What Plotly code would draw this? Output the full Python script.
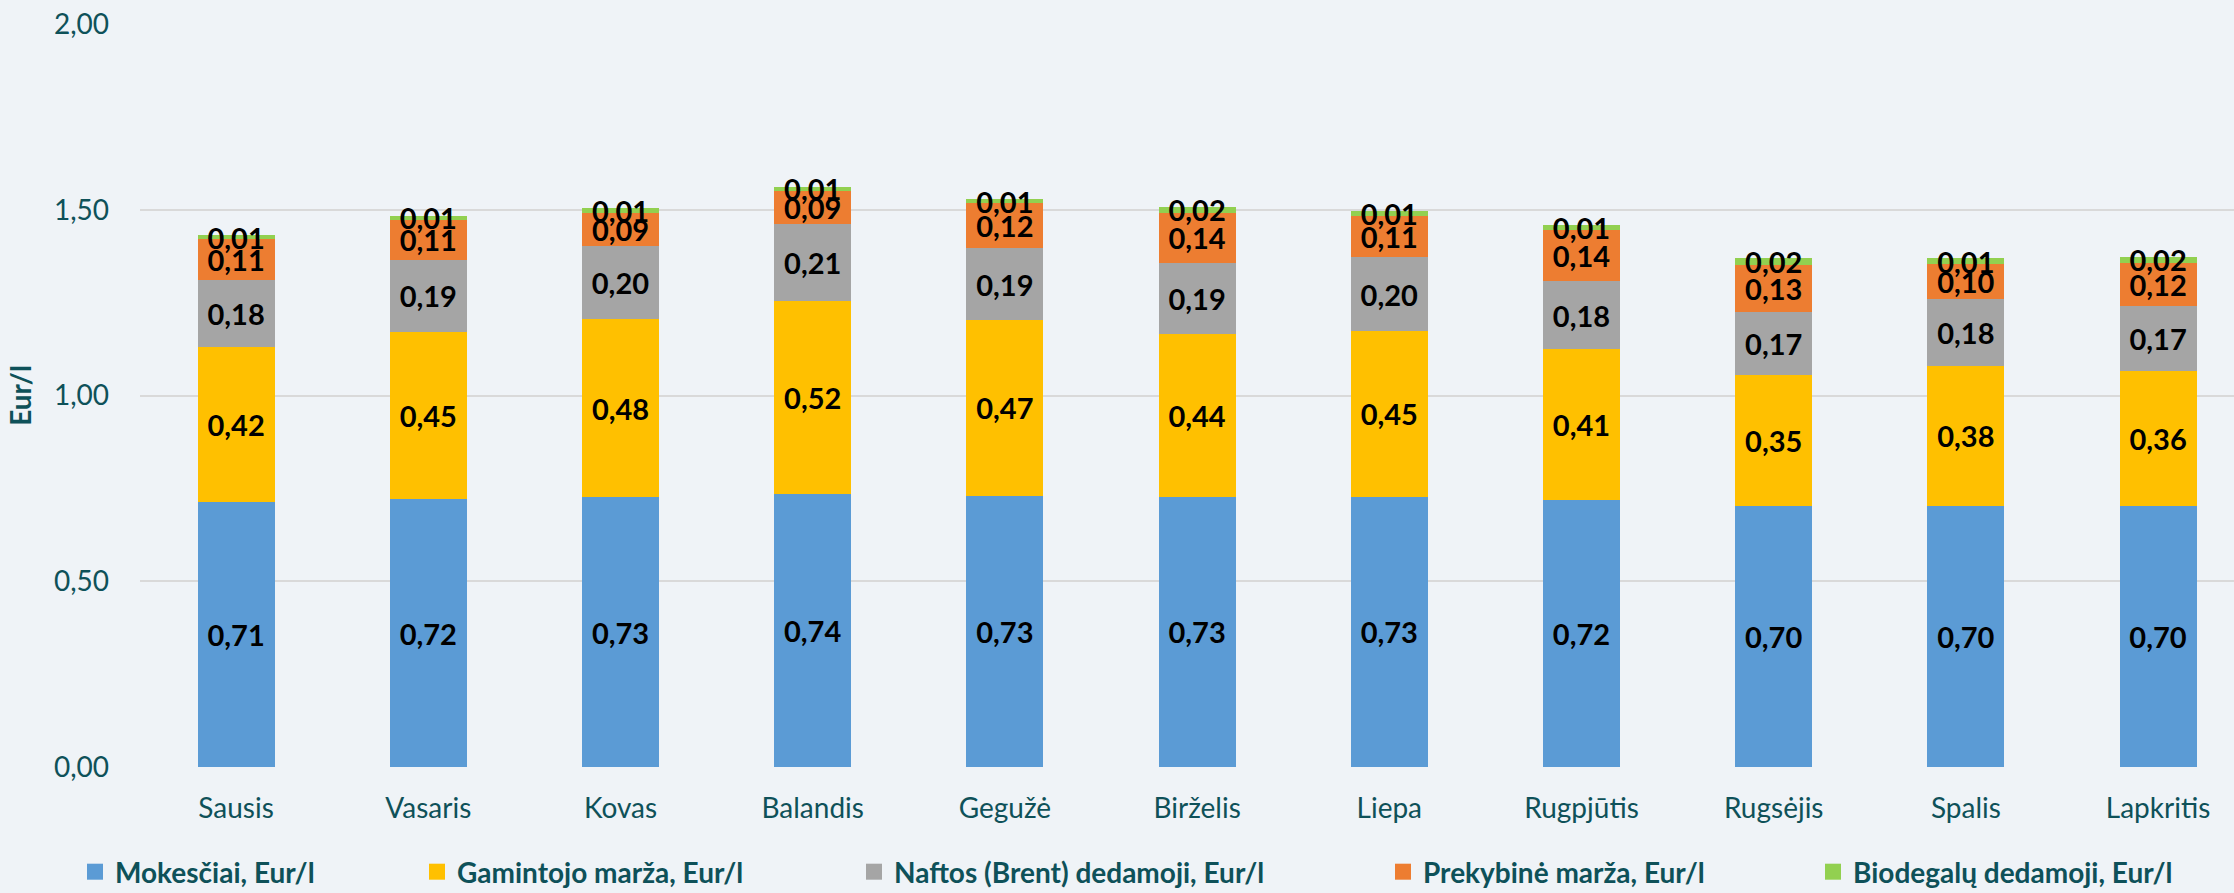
import plotly.graph_objects as go

months = ["Sausis", "Vasaris", "Kovas", "Balandis", "Gegužė", "Birželis",
          "Liepa", "Rugpjūtis", "Rugsėjis", "Spalis", "Lapkritis"]

mokesciai = [0.712, 0.721, 0.726, 0.736, 0.730, 0.727, 0.727, 0.718, 0.702, 0.702, 0.702]
gamintojo = [0.418, 0.450, 0.479, 0.518, 0.473, 0.439, 0.447, 0.407, 0.354, 0.378, 0.364]
naftos    = [0.182, 0.194, 0.198, 0.209, 0.193, 0.190, 0.198, 0.183, 0.169, 0.180, 0.174]
prekybine = [0.109, 0.108, 0.089, 0.088, 0.122, 0.136, 0.112, 0.137, 0.127, 0.095, 0.117]
biodegalu = [0.010, 0.011, 0.012, 0.011, 0.011, 0.016, 0.013, 0.014, 0.017, 0.014, 0.017]

series_names = ["Mokesčiai, Eur/l", "Gamintojo marža, Eur/l", "Naftos (Brent) dedamoji, Eur/l",
                "Prekybinė marža, Eur/l", "Biodegalų dedamoji, Eur/l"]
series_vals = [mokesciai, gamintojo, naftos, prekybine, biodegalu]
colors = ["#5B9BD5", "#FFC000", "#A5A5A5", "#ED7D31", "#92D050"]

y_ticks = [0, 0.5, 1.0, 1.5, 2.0]

TEAL = "#0e5159"
FONT = "Lato"
W, H = 2234, 893

fig = go.Figure()
for name, vals, col in zip(series_names, series_vals, colors):
    fig.add_trace(go.Bar(
        x=months, y=vals, name=name, marker=dict(color=col, line=dict(width=0)),
        texttemplate="%{y:.2f}", textposition="inside", insidetextanchor="middle",
        textangle=0, cliponaxis=False,
        textfont=dict(family=FONT, size=29, color="black", weight="bold"),
        insidetextfont=dict(family=FONT, size=29, color="black", weight="bold"),
        showlegend=False, hoverinfo="skip"))

legend_x_px = [75, 417, 854, 1383, 1813]
for i, (name, col) in enumerate(zip(series_names, colors)):
    lg = "legend" if i == 0 else f"legend{i+1}"
    fig.add_trace(go.Scatter(
        x=[months[0]], y=[None], mode="markers", name=name,
        marker=dict(symbol="square", size=18, color=col),
        showlegend=True, legend=lg, hoverinfo="skip"))

legends = {}
for i, px in enumerate(legend_x_px):
    key = "legend" if i == 0 else f"legend{i+1}"
    legends[key] = dict(
        x=px / W, y=1 - 872 / H, xref="container", yref="container",
        xanchor="left", yanchor="middle", orientation="h",
        bgcolor="rgba(0,0,0,0)", borderwidth=0, itemwidth=30,
        font=dict(family=FONT, size=28, color=TEAL, weight="bold"),
        itemclick=False, itemdoubleclick=False)

fig.update_layout(
    width=W, height=H, autosize=False,
    margin=dict(l=140, r=0, t=24, b=126.3, pad=0),
    paper_bgcolor="#eff3f7", plot_bgcolor="#eff3f7",
    barmode="stack", bargap=0.6,
    separators=", ",
    uniformtext=dict(minsize=29, mode="show"),
    font=dict(family=FONT, color=TEAL),
    **legends,
)

fig.update_xaxes(
    type="category", range=[-0.5, 10.395], showgrid=False, showline=False,
    zeroline=False, ticks="", ticklabelstandoff=22,
    tickfont=dict(family=FONT, size=28, color=TEAL))

fig.update_yaxes(
    range=[0, 2], tickvals=y_ticks, tickformat=".2f",
    showgrid=True, gridcolor="#d9d9d9", gridwidth=2, zeroline=False,
    showline=False, ticks="", ticklabelstandoff=30,
    tickfont=dict(family=FONT, size=28, color=TEAL),
    title=dict(text="Eur/l", standoff=14,
               font=dict(family=FONT, size=28, color=TEAL, weight="bold")))

fig.write_html("out.html",
               config={"displayModeBar": False},
               post_script="document.body.style.margin='0';document.body.style.overflow='hidden';")
